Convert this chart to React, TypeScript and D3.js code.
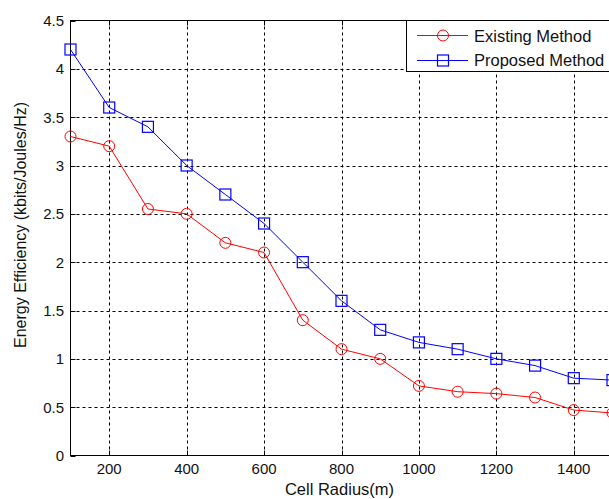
import React from "react";
import * as d3 from "d3";

const radii = [100, 200, 300, 400, 500, 600, 700, 800, 900, 1000, 1100, 1200, 1300, 1400, 1500];
const existing = [3.3, 3.2, 2.55, 2.5, 2.2, 2.1, 1.4, 1.1, 1.0, 0.72, 0.66, 0.64, 0.6, 0.47, 0.44];
const proposed = [4.2, 3.6, 3.4, 3.0, 2.7, 2.4, 2.0, 1.6, 1.3, 1.17, 1.1, 1.0, 0.93, 0.8, 0.78];
const xTicks = [200, 400, 600, 800, 1000, 1200, 1400];
const yTicks = [0, 0.5, 1, 1.5, 2, 2.5, 3, 3.5, 4, 4.5];
const seriesNames = ["Existing Method", "Proposed Method"];

export default function App() {
  const W = 609, H = 499;
  const L = 70.5, R = 612.5, T = 20.5, B = 455.5;
  const x = d3.scaleLinear().domain([100, 1500]).range([L, R]);
  const y = d3.scaleLinear().domain([0, 4.5]).range([B, T]);
  const line = d3.line<number>().x((_, i) => x(radii[i])).y((d) => y(d));
  const font = "Liberation Sans, Arial, sans-serif";
  const red = "#ff0000";
  const blue = "#0000ff";
  const sq = 11;
  const txt = "#111";
  return (
    <svg width={W} height={H} style={{ position: "absolute", left: 0, top: 0, background: "#fff" }}>
      <rect x={0} y={0} width={W} height={H} fill="#fff" />
      {/* grid */}
      {xTicks.map((t) => (
        <line key={"gx" + t} x1={Math.round(x(t)) + 0.5} x2={Math.round(x(t)) + 0.5} y1={T} y2={B} stroke="#000" strokeDasharray="3,3" strokeWidth={1} />
      ))}
      {yTicks.filter((t) => t > 0 && t < 4.5).map((t) => (
        <line key={"gy" + t} x1={L} x2={R} y1={Math.round(y(t)) + 0.5} y2={Math.round(y(t)) + 0.5} stroke="#000" strokeDasharray="3,3" strokeWidth={1} />
      ))}
      {/* axes box */}
      <rect x={L} y={T} width={R - L} height={B - T} fill="none" stroke="#000" strokeWidth={1} />
      {/* ticks */}
      {xTicks.map((t) => (
        <g key={"tx" + t}>
          <line x1={Math.round(x(t)) + 0.5} x2={Math.round(x(t)) + 0.5} y1={B} y2={B - 5} stroke="#000" />
          <line x1={Math.round(x(t)) + 0.5} x2={Math.round(x(t)) + 0.5} y1={T} y2={T + 5} stroke="#000" />
          <text x={x(t)} y={473.5} textAnchor="middle" fontFamily={font} fontSize={15} fill={txt}>{t}</text>
        </g>
      ))}
      {yTicks.map((t) => (
        <g key={"ty" + t}>
          <line x1={L} x2={L + 5} y1={Math.round(y(t)) + 0.5} y2={Math.round(y(t)) + 0.5} stroke="#000" />
          <text x={64} y={y(t) + 5.5} textAnchor="end" fontFamily={font} fontSize={15} fill={txt}>{t}</text>
        </g>
      ))}
      {/* axis labels */}
      <text x={339.5} y={495} textAnchor="middle" fontFamily={font} fontSize={16.5} fill={txt}>Cell Radius(m)</text>
      <text transform={`translate(26,${225}) rotate(-90)`} textAnchor="middle" fontFamily={font} fontSize={16} fill={txt}>
        Energy Efficiency (kbits/Joules/Hz)
      </text>
      {/* series */}
      <path d={line(existing) || ""} fill="none" stroke={red} strokeWidth={1} />
      {existing.map((v, i) => (
        <circle key={"e" + i} cx={x(radii[i])} cy={y(v)} r={5.5} fill="none" stroke={red} strokeWidth={1} />
      ))}
      <path d={line(proposed) || ""} fill="none" stroke={blue} strokeWidth={1} />
      {proposed.map((v, i) => (
        <rect key={"p" + i} x={x(radii[i]) - sq / 2} y={y(v) - sq / 2} width={sq} height={sq} fill="none" stroke={blue} strokeWidth={1.2} />
      ))}
      {/* legend */}
      <rect x={406.5} y={20.5} width={210} height={51} fill="#fff" stroke="#000" strokeWidth={1} />
      <line x1={417} x2={468} y1={35.5} y2={35.5} stroke={red} />
      <circle cx={443} cy={35.5} r={5.5} fill="none" stroke={red} />
      <text x={474} y={41.5} fontFamily={font} fontSize={16.5} fill={txt}>{seriesNames[0]}</text>
      <line x1={417} x2={468} y1={60.5} y2={60.5} stroke={blue} />
      <rect x={443 - sq / 2} y={60.5 - sq / 2} width={sq} height={sq} fill="none" stroke={blue} strokeWidth={1.2} />
      <text x={474} y={65.5} fontFamily={font} fontSize={16.5} fill={txt}>{seriesNames[1]}</text>
    </svg>
  );
}
